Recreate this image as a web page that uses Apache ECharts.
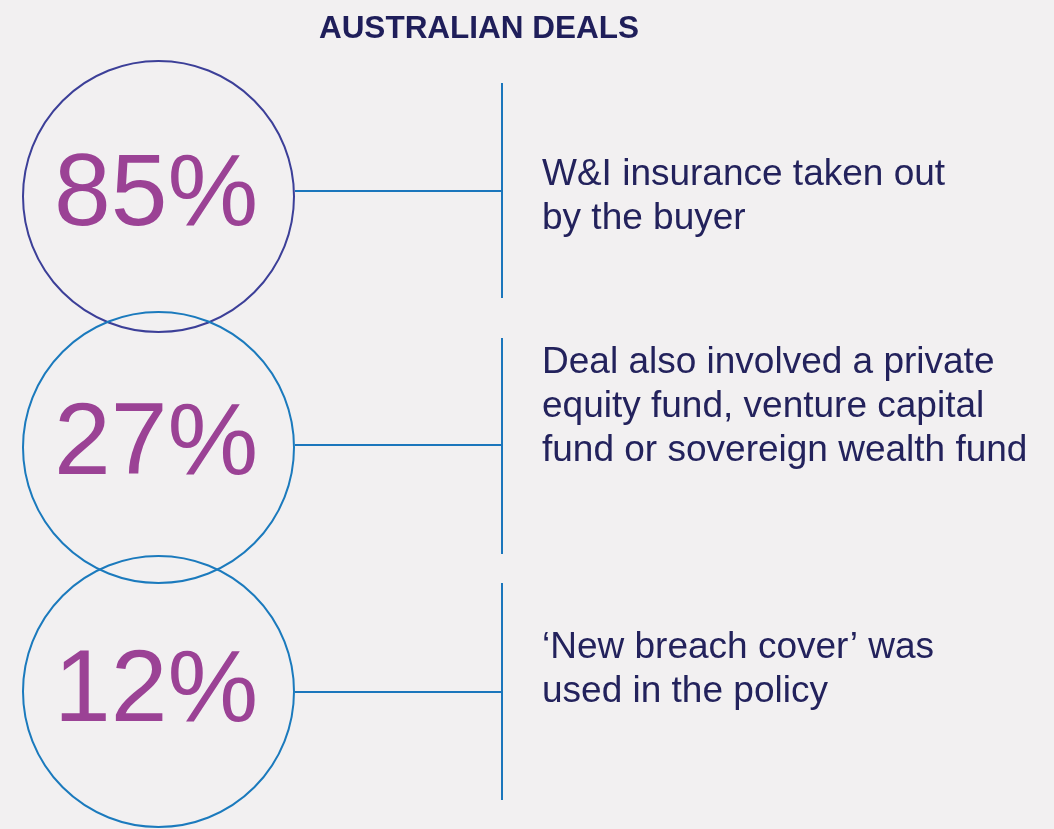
<!DOCTYPE html>
<html>
<head>
<meta charset="utf-8">
<script src="https://cdn.jsdelivr.net/npm/echarts@6/dist/echarts.min.js"></script>
<style>
html,body{margin:0;padding:0;background:#f2f0f1;}
#c{width:1054px;height:829px;}
</style>
</head>
<body>
<div id="c"></div>
<script>
// ---- data ----
const titleText = 'AUSTRALIAN DEALS';
const shares = [85, 27, 12];
const descriptions = [
  'W&I insurance taken out\nby the buyer',
  'Deal also involved a private\nequity fund, venture capital\nfund or sovereign wealth fund',
  '\u2018New breach cover\u2019 was\nused in the policy'
];

// ---- layout / style ----
const FONT = '"Liberation Sans", Arial, Helvetica, sans-serif';
const circleColors = ['#3c3f98', '#1b7abd', '#1b7abd'];
const lineColor = '#1b76bc';
const pctColor = '#9b4295';
const textColor = '#23225c';
const circleCx = 158.5, circleR = 135.5;
const circleDy = [3, 5, 0];
const connDy = [-2.5, 2.5, 0.5];
const vTop = [-110.5, -104.5, -108.5];
const vBot = [104.5, 111.5, 108.5];
const vx = 502;
const pctDy = [3, 3, 1];
const descX = 542;
const descTopDy = [-41, -102, -66];

const chart = echarts.init(document.getElementById('c'), null, {renderer: 'canvas'});
chart.setOption({
  backgroundColor: '#f2f0f1',
  animation: false,
  title: {
    text: titleText,
    left: 474,
    top: 8,
    textAlign: 'center',
    textStyle: {fontFamily: FONT, fontWeight: 'bold', fontSize: 31.5, color: '#1f1e5a'}
  },
  grid: {left: 0, right: 0, top: 69, bottom: 13},
  xAxis: {type: 'value', min: 0, max: 100, show: false},
  yAxis: {type: 'category', data: descriptions, inverse: true, show: false},
  series: [{
    type: 'custom',
    data: shares.map((v, i) => [v, i]),
    encode: {x: 0, y: 1},
    renderItem: function (params, api) {
      const i = api.value(1);
      const v = api.value(0);
      const cy = api.coord([0, i])[1];
      const ly = cy + connDy[i];
      return {
        type: 'group',
        children: [
          {type: 'circle', shape: {cx: circleCx, cy: cy + circleDy[i], r: circleR},
           style: {fill: 'none', stroke: circleColors[i], lineWidth: 2}},
          {type: 'line', shape: {x1: circleCx + circleR + 1, y1: ly, x2: vx, y2: ly},
           style: {stroke: lineColor, lineWidth: 2}},
          {type: 'line', shape: {x1: vx, y1: cy + vTop[i], x2: vx, y2: cy + vBot[i]},
           style: {stroke: lineColor, lineWidth: 2}},
          {type: 'text', style: {text: v + '%', x: 156, y: cy + pctDy[i], align: 'center', verticalAlign: 'middle',
            font: 'normal 102px ' + FONT, fill: pctColor}},
          {type: 'text', style: {text: descriptions[i], x: descX, y: cy + descTopDy[i], align: 'left', verticalAlign: 'top',
            font: 'normal 37px ' + FONT, lineHeight: 44, fill: textColor}}
        ]
      };
    }
  }]
});
</script>
</body>
</html>
